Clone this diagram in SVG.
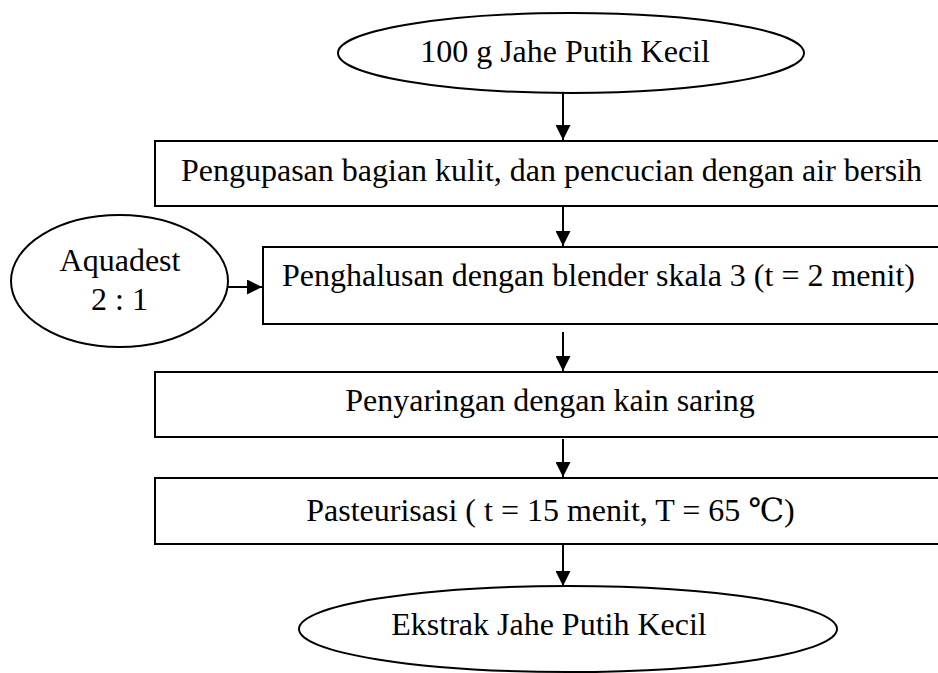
<svg xmlns="http://www.w3.org/2000/svg" width="938" height="673" viewBox="0 0 938 673">
<defs>
<style>
.s{fill:#fff;stroke:#000;stroke-width:2}
.t{font-family:"Liberation Serif","DejaVu Serif","Noto Sans CJK SC",serif;font-size:32px;fill:#000;text-anchor:middle}
.c{stroke:#000;stroke-width:2;fill:none}
</style>
<marker id="ah" viewBox="0 0 10 10" refX="10" refY="5" markerWidth="7.5" markerHeight="7.5" markerUnits="strokeWidth" orient="auto">
<path d="M0,0 L10,5 L0,10 z" fill="#000"/>
</marker>
</defs>
<rect width="938" height="673" fill="#fff"/>
<g id="n-start"><ellipse class="s" cx="571" cy="53" rx="233" ry="40"/><text class="t" x="565" y="62">100 g Jahe Putih Kecil</text></g>
<g id="n-kupas"><rect class="s" x="155" y="141" width="800" height="65"/><text class="t" x="551.5" y="180.5">Pengupasan bagian kulit, dan pencucian dengan air bersih</text></g>
<g id="n-aquadest"><ellipse class="s" cx="119.5" cy="281" rx="108.5" ry="66"/><text class="t" x="120" y="271">Aquadest</text><text class="t" x="119.5" y="310">2 : 1</text></g>
<g id="n-halus"><rect class="s" x="263" y="247" width="700" height="77"/><text class="t" x="598.5" y="286">Penghalusan dengan blender skala 3 (t = 2 menit)</text></g>
<g id="n-saring"><rect class="s" x="155" y="372" width="800" height="65"/><text class="t" x="550" y="411">Penyaringan dengan kain saring</text></g>
<g id="n-pasteur"><rect class="s" x="155" y="478" width="800" height="66"/><text class="t" x="550.5" y="521">Pasteurisasi ( t = 15 menit, T = 65 ℃)</text></g>
<g id="n-end"><ellipse class="s" cx="568" cy="629" rx="269" ry="43"/><text class="t" x="549" y="635">Ekstrak Jahe Putih Kecil</text></g>
<g id="connectors">
<line class="c" x1="563" y1="93" x2="563" y2="140" marker-end="url(#ah)"/>
<line class="c" x1="563" y1="207" x2="563" y2="246" marker-end="url(#ah)"/>
<line class="c" x1="228" y1="287" x2="262" y2="287" marker-end="url(#ah)"/>
<line class="c" x1="563" y1="332" x2="563" y2="371" marker-end="url(#ah)"/>
<line class="c" x1="563" y1="439" x2="563" y2="477" marker-end="url(#ah)"/>
<line class="c" x1="563" y1="545" x2="563" y2="586" marker-end="url(#ah)"/>
</g>
</svg>
